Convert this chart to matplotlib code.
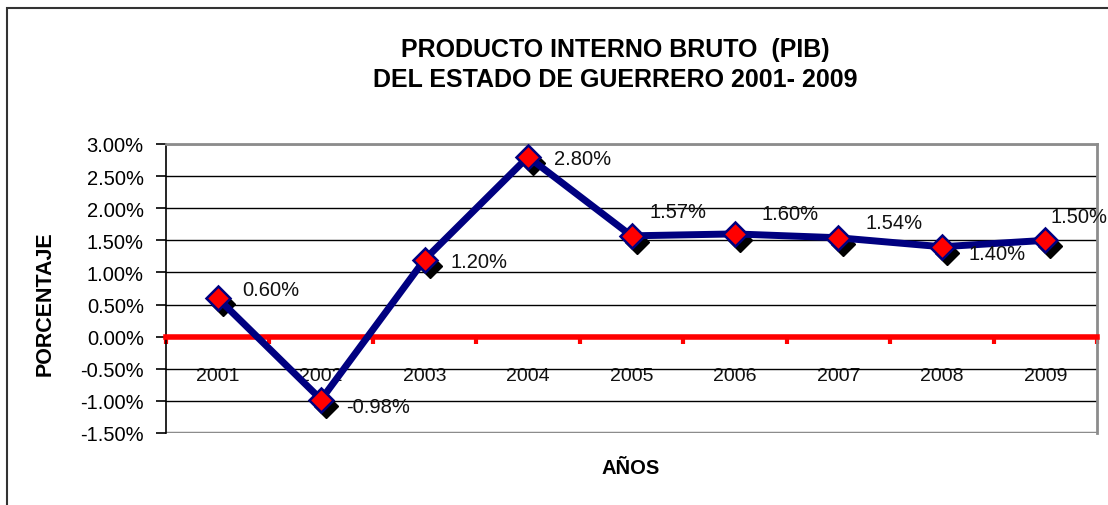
import matplotlib.pyplot as plt
import matplotlib.transforms as mtransforms
from matplotlib.patches import Rectangle
from matplotlib.ticker import FixedLocator, PercentFormatter

plt.rcParams['font.family'] = ['Liberation Sans', 'DejaVu Sans']
plt.rcParams['axes.unicode_minus'] = False

# Data
years = ['2001', '2002', '2003', '2004', '2005', '2006', '2007', '2008', '2009']
pib = [0.60, -0.98, 1.20, 2.80, 1.57, 1.60, 1.54, 1.40, 1.50]
labels = [f'{v:.2f}%' for v in pib]

# label offsets (pixels) to mimic the Excel placement
offsets = [(25, 9), (25, -7), (26, -2), (26, -2), (18, 24), (27, 20), (27, 15), (27, -7), (5, 24)]

fig = plt.figure(figsize=(11.08, 5.06), dpi=100)
ax = fig.add_axes([166 / 1108, 1 - 434 / 506, (1097 - 166) / 1108, (434 - 145) / 506])

x = list(range(len(years)))

# shadow diamonds, then line, then the red markers
shadow = mtransforms.offset_copy(ax.transData, fig=fig, x=5, y=-6, units='dots')
ax.plot(x, pib, linestyle='none', marker='D', markersize=12, color='black',
        transform=shadow, zorder=3, clip_on=False)
ax.plot(x, pib, color='#000080', linewidth=5, zorder=4, solid_joinstyle='round')
ax.plot(x, pib, linestyle='none', marker='D', markersize=12, markerfacecolor='#ff0000',
        markeredgecolor='#000080', markeredgewidth=1.8, zorder=5)

for xi, v, lab, (dx, dy) in zip(x, pib, labels, offsets):
    ax.annotate(lab, (xi, v), xytext=(dx, dy), textcoords='offset pixels',
                ha='left', va='center', fontsize=14.5, color='#111111', zorder=6,
                annotation_clip=False)

# axes limits and grid
ax.set_xlim(-0.5, len(years) - 0.5)
ax.set_ylim(-1.5, 3.0)
ax.yaxis.set_major_locator(FixedLocator([-1.5, -1.0, -0.5, 0, 0.5, 1.0, 1.5, 2.0, 2.5, 3.0]))
ax.yaxis.set_major_formatter(PercentFormatter(decimals=2))
ax.yaxis.grid(True, color='black', linewidth=1)
ax.set_axisbelow(True)
ax.tick_params(axis='y', direction='out', length=7, width=1.2, pad=9, labelsize=14.5,
               colors='black')

# x axis sits on zero, red
ax.spines['bottom'].set_position(('data', 0))
ax.spines['bottom'].set_color('#ff0000')
ax.spines['bottom'].set_linewidth(4)
ax.spines['bottom'].set_zorder(2.5)
ax.set_xticks(x)
ax.set_xticklabels(years)
ax.set_xticks([i - 0.5 for i in range(len(years) + 1)], minor=True)
ax.tick_params(axis='x', which='major', length=0, pad=22, labelsize=14, colors='#111111')
ax.tick_params(axis='x', which='minor', direction='out', length=5, width=3, color='#ff0000')

ax.spines['left'].set_color('black')
ax.spines['left'].set_linewidth(1.2)
for side in ['top', 'right']:
    ax.spines[side].set_color('#8c8c8c')
    ax.spines[side].set_linewidth(2)
ax.axhline(-1.5, color='#8c8c8c', linewidth=2.5, zorder=2)

# titles
fig.text(0.555, 1 - 50 / 506, 'PRODUCTO INTERNO BRUTO  (PIB)', ha='center', va='center',
         fontsize=18, fontweight='bold')
fig.text(0.555, 1 - 80 / 506, 'DEL ESTADO DE GUERRERO 2001- 2009', ha='center', va='center',
         fontsize=18, fontweight='bold')
fig.text(45 / 1108, 1 - 304 / 506, 'PORCENTAJE', rotation=90, ha='center', va='center',
         fontsize=15.5, fontweight='bold')
fig.text(631 / 1108, 1 - 469 / 506, 'AÑOS', ha='center', va='center',
         fontsize=14.5, fontweight='bold')

# outer chart frame (only left and top edges visible)
fig.patches.append(Rectangle((7 / 1108, -0.2), 1.2, 1.2 - 9 / 506, transform=fig.transFigure,
                             fill=False, edgecolor='#333333', linewidth=1.5, clip_on=False))

fig.savefig('out.png', dpi=100)
